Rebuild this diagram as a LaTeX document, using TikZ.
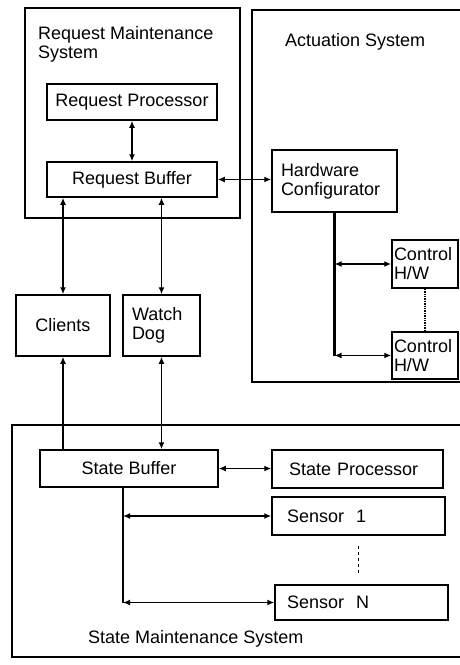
\documentclass[tikz,border=0pt]{standalone}
\usepackage{fontspec}
\setmainfont{Liberation Sans}
\usetikzlibrary{arrows.meta}
\tikzset{
  blk/.style={draw,line width=1.5pt,inner sep=0pt},
  lbl/.style={align=left,inner sep=0pt,anchor=north west},
  frame/.style={line width=1.5pt},
  bus/.style={line width=2.8pt},
  tip/.tip={Latex[length=7pt,width=6pt]},
  con/.style={line width=1.5pt,tip-tip},
}
\begin{document}
\begin{tikzpicture}[x=1pt,y=-1pt,font=\fontsize{18}{19}\selectfont]
        \useasboundingbox(0,0)rectangle(459,665);
        \fill[white](0,0)rectangle(459,665);

        \draw[frame](25,8)rectangle(240,218);
        \draw[frame](462,10)--(252,10)--(252,382)--(462,382);
        \draw[frame](462,425)--(12,425)--(12,657)--(462,657);
        \node[lbl](rmsl)at(38,26){Request Maintenance\\System};
        \node[lbl](asl)at(285,33){Actuation System};
        \node[lbl](smsl)at(88,630){State Maintenance System};

        \node[blk,minimum width=170pt,minimum height=36pt](rp)at(132,102){Request Processor};
        \node[blk,minimum width=170pt,minimum height=35pt](rb)at(132,179.5){Request Buffer};
        \node[blk,minimum width=125pt,minimum height=62pt,text width=107pt,align=left](hc)at(334.5,181){Hardware\\Configurator};
        \node[blk,minimum width=66pt,minimum height=48pt,text width=62pt,align=left](c1)at(425,264){Control\\H/W};
        \node[blk,minimum width=66pt,minimum height=47pt,text width=62pt,align=left](c2)at(425,355.5){Control\\H/W};
        \node[blk,minimum width=94pt,minimum height=61pt](cl)at(63,325.5){Clients};
        \node[blk,minimum width=77pt,minimum height=61pt,text width=59pt,align=left](wd)at(161.5,325.5){Watch\\Dog};
        \node[blk,minimum width=178pt,minimum height=37pt](sb)at(129,468.5){State Buffer};
        \node[blk,minimum width=171pt,minimum height=38pt,text width=137pt,align=left](sp)at(357.5,469){State Processor};
        \node[blk,minimum width=173pt,minimum height=38pt,text width=143pt,align=left](s1)at(358.5,516){Sensor\ \ 1};
        \node[blk,minimum width=173pt,minimum height=35pt,text width=149pt,align=left](sn)at(361.5,602.5){Sensor\ \ N};
        \coordinate(sbb)at(123,0);

        \draw[con](rp)--(rb);
        \draw[con](rb.east)--(rb.east-|hc.west);
        \draw[con](cl|-rb.south)--(cl.north);
        \draw[con](wd|-rb.south)--(wd.north);
        \draw[con,-tip](cl|-sb.north)--(cl.south);
        \draw[con](wd.south)--(wd|-sb.north);

        % actuation bus
        \draw[bus](hc.south)--(hc.south|-c2);
        \draw[con](hc.south|-c1)--(c1.west);
        \draw[con](hc.south|-c2)--(c2.west);
        \draw[line width=1.4pt,densely dotted](c1.south)--(c2.north);

        % sensor bus
        \draw[con](sb.east)--(sb.east-|sp.west);
        \draw[bus](sbb|-sb.south)--(sbb|-sn);
        \draw[con](sbb|-s1)--(s1.west);
        \draw[con](sbb|-sn)--(sn.west);
        \draw[line width=1.2pt,dashed,shorten <=10pt,shorten >=10pt](s1.south)--(s1.south|-sn.north);
    \end{tikzpicture}
\end{document}
